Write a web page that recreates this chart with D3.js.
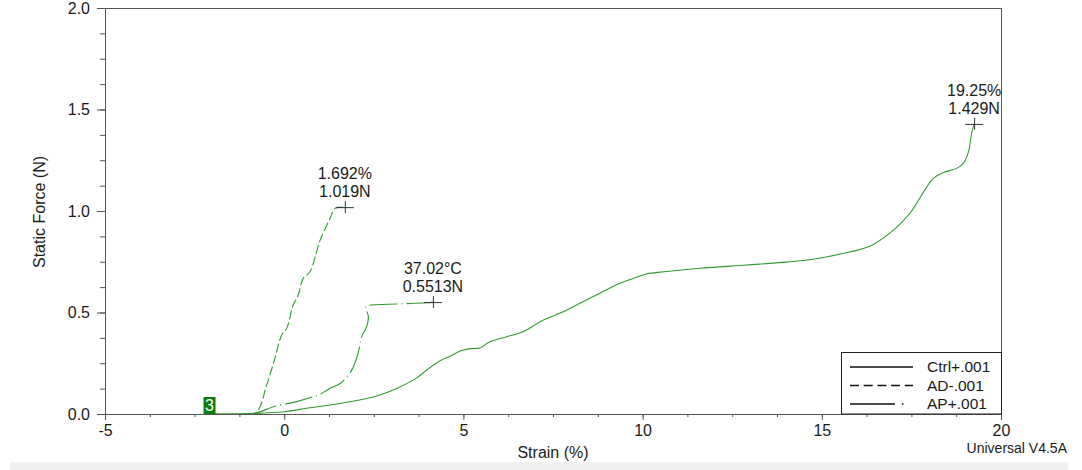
<!DOCTYPE html>
<html>
<head>
<meta charset="utf-8">
<script src="https://cdn.jsdelivr.net/npm/d3@7"></script>
<style>
  body { margin: 0; background: #fff; }
  svg text { font-family: "Liberation Sans", Arial, sans-serif; fill: #1a1a1a; }
</style>
</head>
<body>
<div id="chart"></div>
<script>
// width & height of the page
const width = 1082
const height = 470

// strain (%) vs static force (N)
const ctrlData = [[-2.0,0],[-0.8,0.003],[0.0,0.011],[0.63,0.028],[1.28,0.044],[1.84,0.060],[2.58,0.089],
  [3.14,0.126],[3.70,0.178],[3.98,0.217],[4.35,0.262],[4.63,0.285],[4.91,0.31],[5.2,0.322],[5.46,0.325],
  [5.74,0.356],[6.21,0.381],[6.66,0.405],[7.23,0.463],[7.70,0.497],[8.25,0.545],[8.81,0.595],[9.37,0.644],
  [9.74,0.668],[10.11,0.690],[10.67,0.702],[11.6,0.718],[12.9,0.734],[14.0,0.748],[14.76,0.762],[15.51,0.788],
  [16.35,0.828],[17.0,0.906],[17.46,0.989],[18.11,1.161],[18.39,1.189],[18.76,1.210],[18.95,1.235],
  [19.09,1.290],[19.18,1.383],[19.25,1.429]]
const adData = [[-2.0,0],[-0.82,0.003],[-0.49,0.143],[-0.26,0.274],[-0.07,0.389],[0.07,0.422],[0.25,0.537],
  [0.39,0.586],[0.53,0.668],[0.72,0.701],[1.00,0.855],[1.28,0.964],[1.42,1.013],[1.692,1.019]]
const apData = [[-2.0,0],[-0.82,0.003],[-0.30,0.036],[0.35,0.061],[0.81,0.085],[1.0,0.097],[1.28,0.127],
  [1.56,0.150],[1.88,0.215],[2.07,0.305],[2.16,0.381],[2.30,0.430],[2.35,0.479],[2.28,0.529],[2.44,0.537],
  [3.14,0.542],[3.98,0.548],[4.15,0.5513]]

// end point labels
const peaks = [
  {x: 1.692, y: 1.019, l1: "1.692%", l2: "1.019N"},
  {x: 4.15, y: 0.5513, l1: "37.02°C", l2: "0.5513N"},
  {x: 19.25, y: 1.429, l1: "19.25%", l2: "1.429N"}
]

// ticks
const xMajor = [-5, 0, 5, 10, 15, 20]
const xMinor = d3.range(-5, 20.01, 1.25)
const yMajor = [0, 0.5, 1.0, 1.5, 2.0]
const yMinor = d3.range(0, 2.001, 0.125)

const legendNames = ["Ctrl+.001", "AD-.001", "AP+.001"]

const green = "#2e9b2e"

var svg = d3.select("#chart").append("svg")
  .attr("width", width)
  .attr("height", height)

var x = d3.scaleLinear().domain([-5, 20]).range([105, 1001])
var y = d3.scaleLinear().domain([0, 2]).range([414, 8])

svg.append("clipPath").attr("id", "plotclip").append("rect")
  .attr("x", x(-5)).attr("y", y(2)).attr("width", x(20) - x(-5)).attr("height", y(0) - y(2))

// bottom grey strip
svg.append("rect").attr("x", 10).attr("y", 462).attr("width", 1058).attr("height", 8).attr("fill", "#f0f0f0")

// axes
var gx = svg.append("g").attr("transform", "translate(0,414)")
gx.call(d3.axisBottom(x).tickValues(xMinor).tickSize(3).tickFormat("").tickSizeOuter(0))
gx.append("g").call(d3.axisBottom(x).tickValues(xMajor).tickSize(6).tickPadding(5).tickFormat(d => String(d)).tickSizeOuter(0))

var gy = svg.append("g").attr("transform", "translate(105,0)")
gy.call(d3.axisLeft(y).tickValues(yMinor).tickSize(5).tickFormat("").tickSizeOuter(0))
gy.append("g").call(d3.axisLeft(y).tickValues(yMajor).tickSize(8).tickPadding(7).tickFormat(d => d.toFixed(1)).tickSizeOuter(0))

svg.selectAll(".tick line").attr("stroke", "#555")
svg.selectAll(".domain").attr("stroke", "#555")
svg.selectAll(".tick text").attr("font-size", 16).attr("fill", "#1a1a1a")
  .style("font-family", "'Liberation Sans', Arial, sans-serif")

// plot frame
svg.append("rect")
  .attr("x", x(-5) + 0.5).attr("y", y(2) + 0.5)
  .attr("width", x(20) - x(-5)).attr("height", y(0) - y(2))
  .attr("fill", "none").attr("stroke", "#555")

// axis titles
svg.append("text").attr("x", 553).attr("y", 458).attr("text-anchor", "middle")
  .attr("font-size", 16).text("Strain (%)")
svg.append("text").attr("transform", "translate(45,212) rotate(-90)").attr("text-anchor", "middle")
  .attr("font-size", 16).text("Static Force (N)")
svg.append("text").attr("x", 1067).attr("y", 453).attr("text-anchor", "end")
  .attr("font-size", 14).text("Universal V4.5A")

// curves
var line = d3.line().curve(d3.curveCatmullRom.alpha(0.5)).x(d => x(d[0])).y(d => y(d[1]))
var series = [
  {data: ctrlData, dash: null},
  {data: adData, dash: "9,3"},
  {data: apData, dash: "28,4,1,4"}
]
svg.append("g").attr("clip-path", "url(#plotclip)").selectAll("path")
  .data(series)
  .enter()
  .append("path")
  .attr("d", d => line(d.data))
  .attr("fill", "none")
  .attr("stroke", green)
  .attr("stroke-width", 1.1)
  .attr("stroke-dasharray", d => d.dash)

// start marker "3"
svg.append("rect").attr("x", x(-2.0) - 9).attr("y", y(0) - 17).attr("width", 12).attr("height", 17)
  .attr("fill", "#0b7d0b")
svg.append("text").attr("x", x(-2.0) - 3).attr("y", y(0) - 3).attr("text-anchor", "middle")
  .attr("font-size", 16).style("fill", "#fff").text("3")

// peak crosses and labels
var pk = svg.append("g").selectAll("g").data(peaks).enter().append("g")
  .attr("transform", d => "translate(" + x(d.x) + "," + y(d.y) + ")")
pk.append("line").attr("x1", -9).attr("x2", 9).attr("y1", 0.5).attr("y2", 0.5).attr("stroke", "#333")
pk.append("line").attr("x1", 0.5).attr("x2", 0.5).attr("y1", -6).attr("y2", 6).attr("stroke", "#333")
pk.append("text").attr("y", -28).attr("text-anchor", "middle").attr("font-size", 16).text(d => d.l1)
pk.append("text").attr("y", -10).attr("text-anchor", "middle").attr("font-size", 16).text(d => d.l2)

// legend
var lg = svg.append("g")
lg.append("rect").attr("x", 841.5).attr("y", 352.5).attr("width", 160).attr("height", 61.5)
  .attr("fill", "#fff").attr("stroke", "#222")
var legDash = [null, "9,4.7", "45,7,1.5,30"]
legendNames.forEach(function(n, i) {
  var ly = 367 + i * 18.5
  lg.append("line").attr("x1", 850).attr("x2", i == 2 ? 904 : 913).attr("y1", ly).attr("y2", ly)
    .attr("stroke", "#111").attr("stroke-width", 1.6).attr("stroke-dasharray", legDash[i])
  lg.append("text").attr("x", 927).attr("y", ly + 5).attr("font-size", 15.5).text(n)
})
</script>
</body>
</html>
